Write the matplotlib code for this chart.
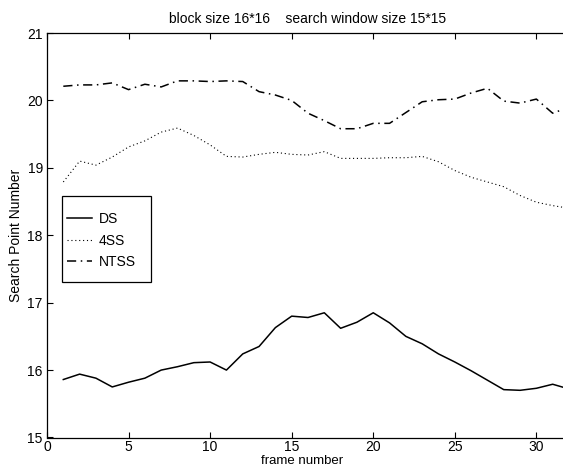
import matplotlib
matplotlib.use("Agg")
import matplotlib.pyplot as plt
from matplotlib.patches import Rectangle

frames = list(range(1, 33))
ds = [15.86, 15.94, 15.88, 15.75, 15.82, 15.88, 16.00, 16.05, 16.11, 16.12,
      16.00, 16.24, 16.35, 16.63, 16.80, 16.78, 16.85, 16.62, 16.71, 16.85,
      16.70, 16.50, 16.39, 16.24, 16.12, 15.99, 15.85, 15.71, 15.70, 15.73,
      15.79, 15.72]
fss = [18.79, 19.10, 19.04, 19.16, 19.31, 19.40, 19.53, 19.59, 19.48, 19.34,
       19.17, 19.16, 19.20, 19.23, 19.20, 19.19, 19.24, 19.14, 19.14, 19.14,
       19.15, 19.15, 19.17, 19.09, 18.96, 18.86, 18.79, 18.72, 18.59, 18.49,
       18.44, 18.40]
ntss = [20.21, 20.23, 20.23, 20.26, 20.16, 20.24, 20.20, 20.29, 20.29, 20.28,
        20.29, 20.28, 20.13, 20.08, 20.00, 19.81, 19.70, 19.58, 19.58, 19.66,
        19.66, 19.82, 19.98, 20.01, 20.02, 20.11, 20.18, 19.99, 19.96, 20.02,
        19.81, 19.90]
xticks = [0, 5, 10, 15, 20, 25, 30]
yticks = [15, 16, 17, 18, 19, 20, 21]

plt.rcParams['font.family'] = ['Liberation Sans', 'DejaVu Sans']
plt.rcParams['font.size'] = 10

W, H = 563, 470
fig = plt.figure(figsize=(W / 100, H / 100), dpi=100)
# axes spans x 0..32; the original picture was cropped at the right
x0, x1, ytop, ybot = 47, 569, 33, 437.5
ax = fig.add_axes([x0 / W, (H - ybot) / H, (x1 - x0) / W, (ybot - ytop) / H])

ax.plot(frames, ds, color='black', linestyle='-', linewidth=1.1, label='DS')
ax.plot(frames, fss, color='black', linestyle=(0, (1, 2.5)), linewidth=0.8, label='4SS')
ax.plot(frames, ntss, color='black', linestyle=(0, (6, 3, 1, 3)), linewidth=1.1, label='NTSS')

ax.set_xlim(0, 32)
ax.set_ylim(15, 21)
ax.set_xticks(xticks)
ax.set_yticks(yticks)
ax.tick_params(direction='in', top=True, right=True, length=4, width=0.8,
               labelsize=10)
ax.tick_params(axis='x', pad=1.5)
ax.tick_params(axis='y', pad=3)
for s in ax.spines.values():
    s.set_linewidth(0.9)

def axfrac(px, py):
    return ((px - x0) / (x1 - x0), (ybot - py) / (ybot - ytop))

ax.set_title('block size 16*16    search window size 15*15', fontsize=10, pad=7)
ax.set_xlabel('frame number', fontsize=9.5)
ax.xaxis.set_label_coords(*axfrac(302, 455))
ax.set_ylabel('Search Point Number', fontsize=10, labelpad=3)

# legend: frameless entries inside a drawn box
leg = ax.legend(loc='upper left', bbox_to_anchor=axfrac(67, 212), frameon=False,
                fontsize=10, handlelength=1.8, borderpad=0, labelspacing=0.55,
                handletextpad=0.5, borderaxespad=0)
bl = axfrac(62, 282)
tr = axfrac(151, 196)
ax.add_patch(Rectangle(bl, tr[0] - bl[0], tr[1] - bl[1], transform=ax.transAxes,
                       facecolor='white', edgecolor='black', linewidth=0.9, zorder=4))
leg.set_zorder(5)

fig.savefig('out.png', dpi=100)
